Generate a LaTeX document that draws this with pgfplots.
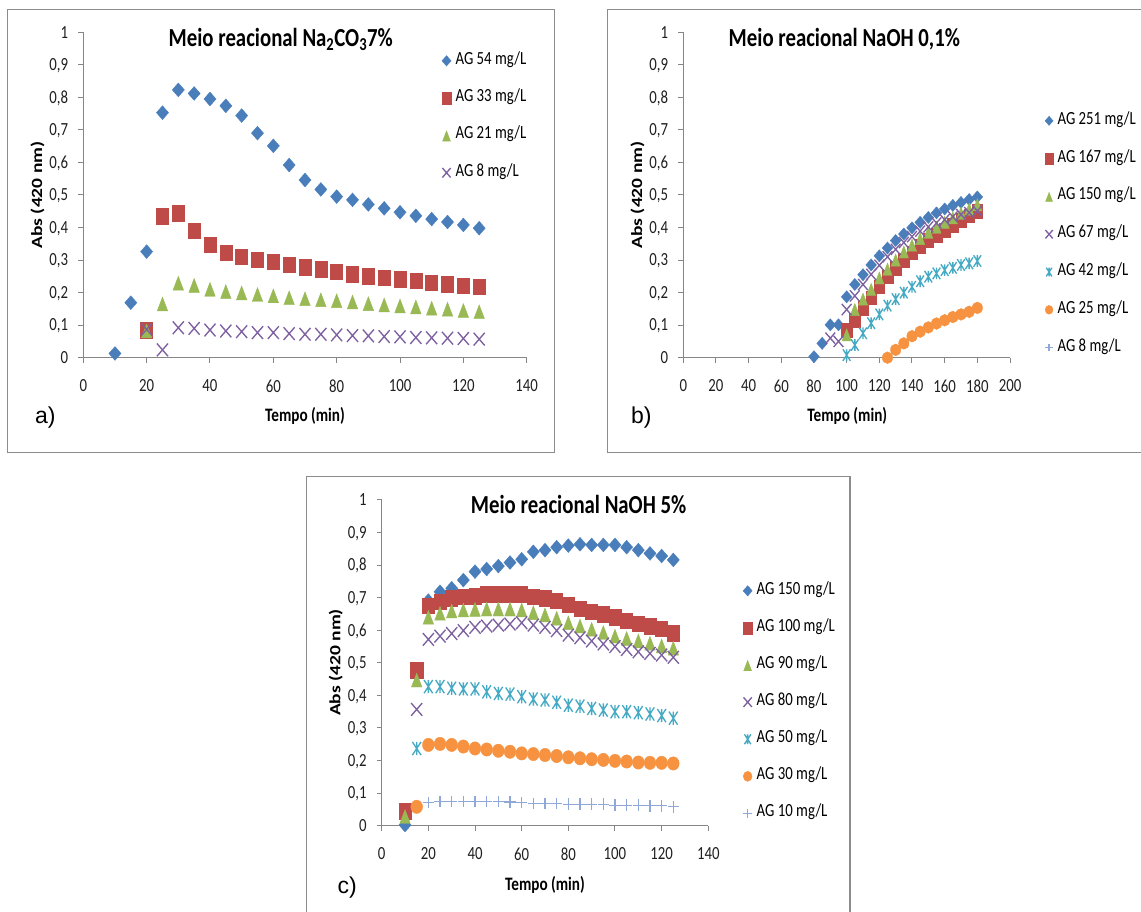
\documentclass[border=0pt]{standalone}
\usepackage{fontspec}
\setmainfont{Carlito}[FakeStretch=0.8]
\newfontfamily\arialfont{Liberation Sans}
\newfontfamily\unstretched{Carlito}
\usepackage{graphicx}
\usepackage{pgfplots}
\pgfplotsset{compat=1.18}

\definecolor{cblue}{HTML}{4A7EBB}
\definecolor{cred}{HTML}{BE4B48}
\definecolor{cgreen}{HTML}{98B954}
\definecolor{cpurple}{HTML}{7D60A0}
\definecolor{caqua}{HTML}{46AAC5}
\definecolor{corange}{HTML}{F69240}
\definecolor{cplus}{HTML}{8FA8D8}
\definecolor{axgray}{HTML}{868686}
\definecolor{framegray}{HTML}{8C8C8C}

\pgfdeclareplotmark{xstar}{%
  \pgfpathmoveto{\pgfqpoint{-.75\pgfplotmarksize}{-\pgfplotmarksize}}%
  \pgfpathlineto{\pgfqpoint{.75\pgfplotmarksize}{\pgfplotmarksize}}%
  \pgfpathmoveto{\pgfqpoint{-.75\pgfplotmarksize}{\pgfplotmarksize}}%
  \pgfpathlineto{\pgfqpoint{.75\pgfplotmarksize}{-\pgfplotmarksize}}%
  \pgfpathmoveto{\pgfqpoint{0pt}{-\pgfplotmarksize}}%
  \pgfpathlineto{\pgfqpoint{0pt}{\pgfplotmarksize}}%
  \pgfusepathqstroke}

\pgfplotsset{
  sA/.style={only marks, mark=diamond*, color=cblue, mark size=6.9pt, mark options={scale=#1, xscale=1.17}},
  sA/.default=1,
  sB/.style={only marks, mark=square*, color=cred, mark size=7.7pt, mark options={scale=#1, xscale=0.78}},
  sB/.default=1,
  sC/.style={only marks, mark=triangle*, color=cgreen, mark size=9.2pt, mark options={scale=#1, xscale=0.66, yshift=-2.3pt}},
  sC/.default=1,
  sD/.style={only marks, mark=x, color=cpurple, mark size=9pt, line width=1.35pt, mark options={scale=#1, xscale=0.87}},
  sD/.default=1,
  sE/.style={only marks, mark=xstar, color=caqua, mark size=6.6pt, line width=1.35pt, mark options={scale=#1, xscale=0.87}},
  sE/.default=1,
  sF/.style={only marks, mark=*, color=corange, mark size=6.7pt, mark options={scale=#1, xscale=0.88}},
  sF/.default=1,
  sG/.style={only marks, mark=+, color=cplus, mark size=5.7pt, line width=1.2pt, mark options={scale=#1}},
  sG/.default=1,
  panel/.style={
    scale only axis, clip=false,
    ymin=0, ymax=1, xmin=0,
    axis x line*=bottom, axis y line*=left,
    axis line style={axgray, line width=1pt},
    tick style={axgray, line width=1pt},
    tick align=outside, major tick length=5pt,
    ytick={0,0.1,0.2,0.3,0.4,0.5,0.6,0.7,0.8,0.9,1},
    yticklabels={0,{0,1},{0,2},{0,3},{0,4},{0,5},{0,6},{0,7},{0,8},{0,9},1},
    ticklabel style={font=\fontsize{18.5}{20}\selectfont, text=black!88},
    xticklabel style={anchor=north, inner sep=0pt, yshift=-17pt},
    yticklabel style={anchor=east, inner sep=0pt, xshift=-10pt, text height=11.7pt, text depth=0pt},
    xlabel={\bfseries Tempo (min)},
    xlabel style={at={(axis description cs:0.5,-0.1967)}, anchor=base, font=\fontsize{19}{20}\selectfont},
    ylabel={\scalebox{1}[0.8]{\unstretched\bfseries Abs (420 nm)}},
    ylabel style={anchor=center, font=\fontsize{19.5}{20}\selectfont},
    title style={anchor=base, font=\bfseries\fontsize{26}{28}\selectfont},
    legend cell align=left,
    legend image code/.code={\draw[#1, every mark/.append style={scale=0.75}] plot coordinates {(0pt,0pt)};},
    legend style={draw=none, fill=none, inner sep=0pt, font=\fontsize{18.5}{20}\selectfont,
      column sep=2pt, nodes={inner ysep=0pt, inner xsep=2.5pt, text height=12pt, text depth=5pt}},
  }
}

\begin{document}
\begin{tikzpicture}[x=1pt,y=1pt]
\useasboundingbox (0,0) rectangle (1141,912);
\draw[framegray, line width=1.2pt] (7.6,459.7) rectangle (554.3,902.7);
\draw[framegray, line width=1.2pt] (607.6,459.7) rectangle (1160,902.7);
\draw[framegray, line width=1.2pt] (306.4,-20) rectangle (850,435.3);

% ---------------- panel a
\begin{axis}[panel, at={(83.3pt,554.3pt)}, anchor=south west, width=443.4pt, height=325.4pt,
  xmax=140, xtick={0,20,40,60,80,100,120,140}, xticklabels={0,20,40,60,80,100,120,140},
  ylabel style={at={(axis description cs:-0.103,0.5)}},
  title={Meio reacional Na\textsubscript{2}CO\textsubscript{3}7\%},
  title style={at={(axis description cs:0.4454,0.9385)}},
  legend style={at={(axis description cs:0.8085,0.939)}, anchor=north west, row sep=20.3pt}]
\addplot[sA] coordinates {(10,0.013) (15,0.169) (20,0.326) (25,0.753) (30,0.823) (35,0.812) (40,0.795) (45,0.774) (50,0.744) (55,0.690) (60,0.651) (65,0.592) (70,0.546) (75,0.517) (80,0.495) (85,0.485) (90,0.471) (95,0.459) (100,0.447) (105,0.436) (110,0.426) (115,0.417) (120,0.408) (125,0.398)};
\addlegendentry{AG 54 mg/L}
\addplot[sB] coordinates {(20,0.085) (25,0.435) (30,0.444) (35,0.391) (40,0.347) (45,0.323) (50,0.311) (55,0.302) (60,0.295) (65,0.286) (70,0.278) (75,0.272) (80,0.264) (85,0.257) (90,0.251) (95,0.246) (100,0.241) (105,0.236) (110,0.231) (115,0.226) (120,0.221) (125,0.218)};
\addlegendentry{AG 33 mg/L}
\addplot[sC] coordinates {(20,0.082) (25,0.165) (30,0.229) (35,0.222) (40,0.210) (45,0.203) (50,0.199) (55,0.194) (60,0.190) (65,0.184) (70,0.181) (75,0.178) (80,0.175) (85,0.171) (90,0.166) (95,0.162) (100,0.159) (105,0.156) (110,0.152) (115,0.149) (120,0.145) (125,0.141)};
\addlegendentry{AG 21 mg/L}
\addplot[sD] coordinates {(20,0.087) (25,0.024) (30,0.092) (35,0.090) (40,0.085) (45,0.082) (50,0.080) (55,0.077) (60,0.077) (65,0.074) (70,0.072) (75,0.072) (80,0.070) (85,0.068) (90,0.067) (95,0.065) (100,0.064) (105,0.062) (110,0.061) (115,0.060) (120,0.059) (125,0.057)};
\addlegendentry{AG 8 mg/L}
\end{axis}

% ---------------- panel b
\begin{axis}[panel, at={(683.3pt,554.3pt)}, anchor=south west, width=326.7pt, height=325.4pt,
  xmax=200, xtick={0,20,40,60,80,100,120,140,160,180,200}, xticklabels={0,20,40,60,80,100,120,140,160,180,200},
  ylabel style={at={(axis description cs:-0.1405,0.5)}},
  xlabel style={at={(axis description cs:0.502,-0.1967)}},
  title={Meio reacional NaOH 0,1\%},
  title style={at={(axis description cs:0.493,0.9385)}},
  legend style={at={(axis description cs:1.1068,0.7546)}, anchor=north west, row sep=20.8pt}]
\addplot[sA=0.88] coordinates {(80,0.003) (85,0.044) (90,0.101) (95,0.101) (100,0.187) (105,0.225) (110,0.255) (115,0.285) (120,0.313) (125,0.337) (130,0.360) (135,0.380) (140,0.399) (145,0.416) (150,0.431) (155,0.445) (160,0.457) (165,0.468) (170,0.477) (175,0.486) (180,0.494)};
\addlegendentry{AG 251 mg/L}
\addplot[sB=0.88] coordinates {(100,0.085) (105,0.115) (110,0.152) (115,0.184) (120,0.218) (125,0.249) (130,0.275) (135,0.300) (140,0.323) (145,0.343) (150,0.361) (155,0.377) (160,0.392) (165,0.407) (170,0.422) (175,0.436) (180,0.450)};
\addlegendentry{AG 167 mg/L}
\addplot[sC=0.88] coordinates {(100,0.070) (105,0.148) (110,0.180) (115,0.210) (120,0.245) (125,0.272) (130,0.300) (135,0.325) (140,0.346) (145,0.366) (150,0.385) (155,0.401) (160,0.416) (165,0.430) (170,0.444) (175,0.457) (180,0.470)};
\addlegendentry{AG 150 mg/L}
\addplot[sD=0.88] coordinates {(90,0.060) (95,0.050) (100,0.148) (105,0.190) (110,0.225) (115,0.256) (120,0.284) (125,0.310) (130,0.333) (135,0.354) (140,0.372) (145,0.389) (150,0.402) (155,0.414) (160,0.424) (165,0.433) (170,0.440) (175,0.446) (180,0.451)};
\addlegendentry{AG 67 mg/L}
\addplot[sE=0.88] coordinates {(100,0.008) (105,0.039) (110,0.075) (115,0.106) (120,0.133) (125,0.160) (130,0.180) (135,0.200) (140,0.218) (145,0.235) (150,0.249) (155,0.259) (160,0.269) (165,0.276) (170,0.285) (175,0.290) (180,0.297)};
\addlegendentry{AG 42 mg/L}
\addplot[sF=0.88] coordinates {(125,0.000) (130,0.024) (135,0.044) (140,0.066) (145,0.080) (150,0.093) (155,0.105) (160,0.115) (165,0.125) (170,0.133) (175,0.141) (180,0.153)};
\addlegendentry{AG 25 mg/L}
\addlegendimage{sG=0.88}
\addlegendentry{AG 8 mg/L}
\end{axis}

% ---------------- panel c
\begin{axis}[panel, at={(381.7pt,86.3pt)}, anchor=south west, width=326.6pt, height=325.7pt,
  xmax=140, xtick={0,20,40,60,80,100,120,140}, xticklabels={0,20,40,60,80,100,120,140},
  ylabel style={at={(axis description cs:-0.141,0.501)}},
  xlabel style={at={(axis description cs:0.5,-0.1995)}},
  title={Meio reacional NaOH 5\%},
  title style={at={(axis description cs:0.603,0.9386)}},
  legend style={at={(axis description cs:1.106,0.7478)}, anchor=north west, row sep=20.1pt}]
\addplot[sA] coordinates {(10,0.002) (20,0.691) (25,0.718) (30,0.729) (35,0.754) (40,0.780) (45,0.788) (50,0.797) (55,0.808) (60,0.818) (65,0.841) (70,0.846) (75,0.855) (80,0.860) (85,0.864) (90,0.862) (95,0.862) (100,0.862) (105,0.855) (110,0.846) (115,0.836) (120,0.828) (125,0.816)};
\addlegendentry{AG 150 mg/L}
\addplot[sB] coordinates {(10,0.045) (15,0.478) (20,0.675) (25,0.688) (30,0.698) (35,0.703) (40,0.705) (45,0.711) (50,0.711) (55,0.711) (60,0.711) (65,0.703) (70,0.698) (75,0.690) (80,0.678) (85,0.667) (90,0.657) (95,0.649) (100,0.640) (105,0.630) (110,0.621) (115,0.613) (120,0.604) (125,0.591)};
\addlegendentry{AG 100 mg/L}
\addplot[sC] coordinates {(10,0.028) (15,0.447) (20,0.640) (25,0.652) (30,0.659) (35,0.662) (40,0.664) (45,0.665) (50,0.665) (55,0.665) (60,0.662) (65,0.654) (70,0.647) (75,0.637) (80,0.623) (85,0.613) (90,0.603) (95,0.593) (100,0.582) (105,0.575) (110,0.567) (115,0.560) (120,0.552) (125,0.545)};
\addlegendentry{AG 90 mg/L}
\addplot[sD] coordinates {(15,0.357) (20,0.572) (25,0.582) (30,0.590) (35,0.599) (40,0.609) (45,0.613) (50,0.616) (55,0.619) (60,0.623) (65,0.616) (70,0.609) (75,0.599) (80,0.585) (85,0.577) (90,0.567) (95,0.558) (100,0.550) (105,0.541) (110,0.534) (115,0.529) (120,0.524) (125,0.517)};
\addlegendentry{AG 80 mg/L}
\addplot[sE] coordinates {(15,0.237) (20,0.427) (25,0.427) (30,0.422) (35,0.420) (40,0.420) (45,0.411) (50,0.406) (55,0.404) (60,0.396) (65,0.389) (70,0.386) (75,0.379) (80,0.370) (85,0.367) (90,0.360) (95,0.355) (100,0.350) (105,0.350) (110,0.347) (115,0.343) (120,0.338) (125,0.330)};
\addlegendentry{AG 50 mg/L}
\addplot[sF] coordinates {(15,0.058) (20,0.248) (25,0.251) (30,0.248) (35,0.243) (40,0.237) (45,0.234) (50,0.230) (55,0.227) (60,0.222) (65,0.220) (70,0.217) (75,0.214) (80,0.210) (85,0.207) (90,0.204) (95,0.202) (100,0.199) (105,0.197) (110,0.194) (115,0.193) (120,0.193) (125,0.191)};
\addlegendentry{AG 30 mg/L}
\addplot[sG] coordinates {(20,0.072) (25,0.074) (30,0.074) (35,0.074) (40,0.074) (45,0.074) (50,0.074) (55,0.073) (60,0.071) (65,0.069) (70,0.069) (75,0.069) (80,0.066) (85,0.066) (90,0.066) (95,0.066) (100,0.063) (105,0.063) (110,0.063) (115,0.061) (120,0.061) (125,0.058)};
\addlegendentry{AG 10 mg/L}
\end{axis}

\node[anchor=base west, inner sep=0pt, font=\arialfont\fontsize{23}{24}\selectfont] at (35,488.7) {a)};
\node[anchor=base west, inner sep=0pt, font=\arialfont\fontsize{23}{24}\selectfont] at (631,488) {b)};
\node[anchor=base west, inner sep=0pt, font=\arialfont\fontsize{23}{24}\selectfont] at (337.5,18) {c)};
\end{tikzpicture}
\end{document}
